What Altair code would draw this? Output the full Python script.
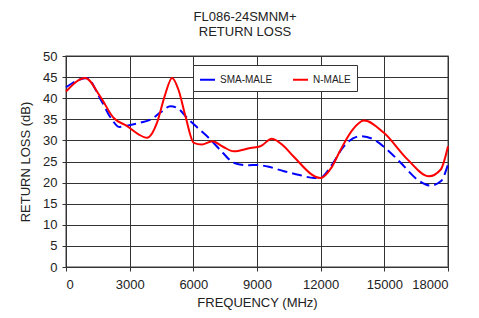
import altair as alt
import pandas as pd

sma_freq = [0, 990, 1600, 2170, 2500, 2880, 3500, 3977, 4500, 4920, 5300, 5710, 6200, 6810, 7400, 7900,
            8540, 9000, 9500, 10270, 11000, 11680, 12000, 12500, 13090, 13880, 14510, 15200, 15770, 16560,
            17180, 17660, 18000]
sma_rl = [42.6, 44.8, 40.0, 34.9, 33.2, 33.5, 34.2, 34.9, 36.8, 38.1, 37.5, 35.3, 33.0, 30.2, 27.0, 24.7,
          24.1, 24.2, 23.8, 22.7, 21.8, 21.1, 21.2, 24.0, 28.6, 31.0, 30.2, 27.5, 24.7, 20.7,
          19.3, 20.3, 24.3]

n_freq = [0, 910, 1600, 2250, 2880, 3400, 3820, 4290, 4650, 5000, 5300, 5630, 6020, 6400, 6890, 7400, 7900,
          8690, 9160, 9700, 10270, 10700, 11990, 12500, 12940, 13500, 14040, 14980, 16090, 17100, 17660, 18000]
n_rl = [41.6, 44.8, 40.5, 35.3, 33.4, 31.5, 30.6, 34.2, 40.5, 44.8, 42.0, 35.7, 29.4, 29.0, 29.8, 28.5, 27.4,
        28.2, 28.6, 30.4, 28.6, 26.3, 21.1, 23.5, 27.8, 32.5, 34.7, 31.8, 25.5, 21.5, 23.1, 28.6]

series_names = ["SMA-MALE", "N-MALE"]
series_colors = ["#0000ff", "#ff0000"]
x_ticks = [0, 3000, 6000, 9000, 12000, 15000, 18000]

df_sma = pd.DataFrame({"freq": sma_freq, "rl": sma_rl, "series": series_names[0]})
df_n = pd.DataFrame({"freq": n_freq, "rl": n_rl, "series": series_names[1]})

color = alt.Color("series:N", scale=alt.Scale(domain=series_names, range=series_colors),
                  legend=alt.Legend(title=None, orient="none", legendX=127, legendY=9,
                                    direction="horizontal", fillColor="white", strokeColor="#333333",
                                    padding=6, labelFontSize=10, symbolType="stroke", symbolSize=225,
                                    symbolStrokeWidth=2, columnPadding=16, labelFont="Liberation Sans",
                                    labelColor="#222222", labelOffset=4))

xenc = alt.X("freq:Q", scale=alt.Scale(domain=[0, 18000], nice=False),
             axis=alt.Axis(values=x_ticks, format="d", title="FREQUENCY (MHz)", titlePadding=5,
                           labelPadding=7))
yenc = alt.Y("rl:Q", scale=alt.Scale(domain=[0, 50], nice=False),
             axis=alt.Axis(values=list(range(0, 51, 5)), title="RETURN LOSS (dB)", titlePadding=10))

blue = alt.Chart(df_sma).mark_line(interpolate="monotone", strokeWidth=2, strokeDash=[10, 5]).encode(
    x=xenc, y=yenc, color=color)
red = alt.Chart(df_n).mark_line(interpolate="monotone", strokeWidth=2).encode(
    x=xenc, y=yenc, color=color)

chart = alt.layer(blue, red).properties(
    width=382, height=211,
    autosize=alt.AutoSizeParams(type="none"),
    padding={"left": 58, "top": 48, "right": 15, "bottom": 43},
    title=alt.TitleParams(["FL086-24SMNM+", "RETURN LOSS"], fontSize=13, fontWeight="normal",
                          font="Liberation Sans", color="#222222", offset=11, lineHeight=15, dx=-12,
                          anchor="middle"),
).configure_view(stroke="#808080", strokeWidth=1.5).configure_axis(
    domain=False, grid=True, gridColor="#333333", gridOpacity=1, gridWidth=1,
    tickColor="#333333", tickSize=4, labelFont="Liberation Sans", labelFontSize=13,
    labelColor="#222222", titleFont="Liberation Sans", titleFontSize=13, titleFontWeight="normal",
    titleColor="#222222", labelPadding=5,
)

chart.save("out.html", embed_options={"renderer": "svg", "actions": False})
